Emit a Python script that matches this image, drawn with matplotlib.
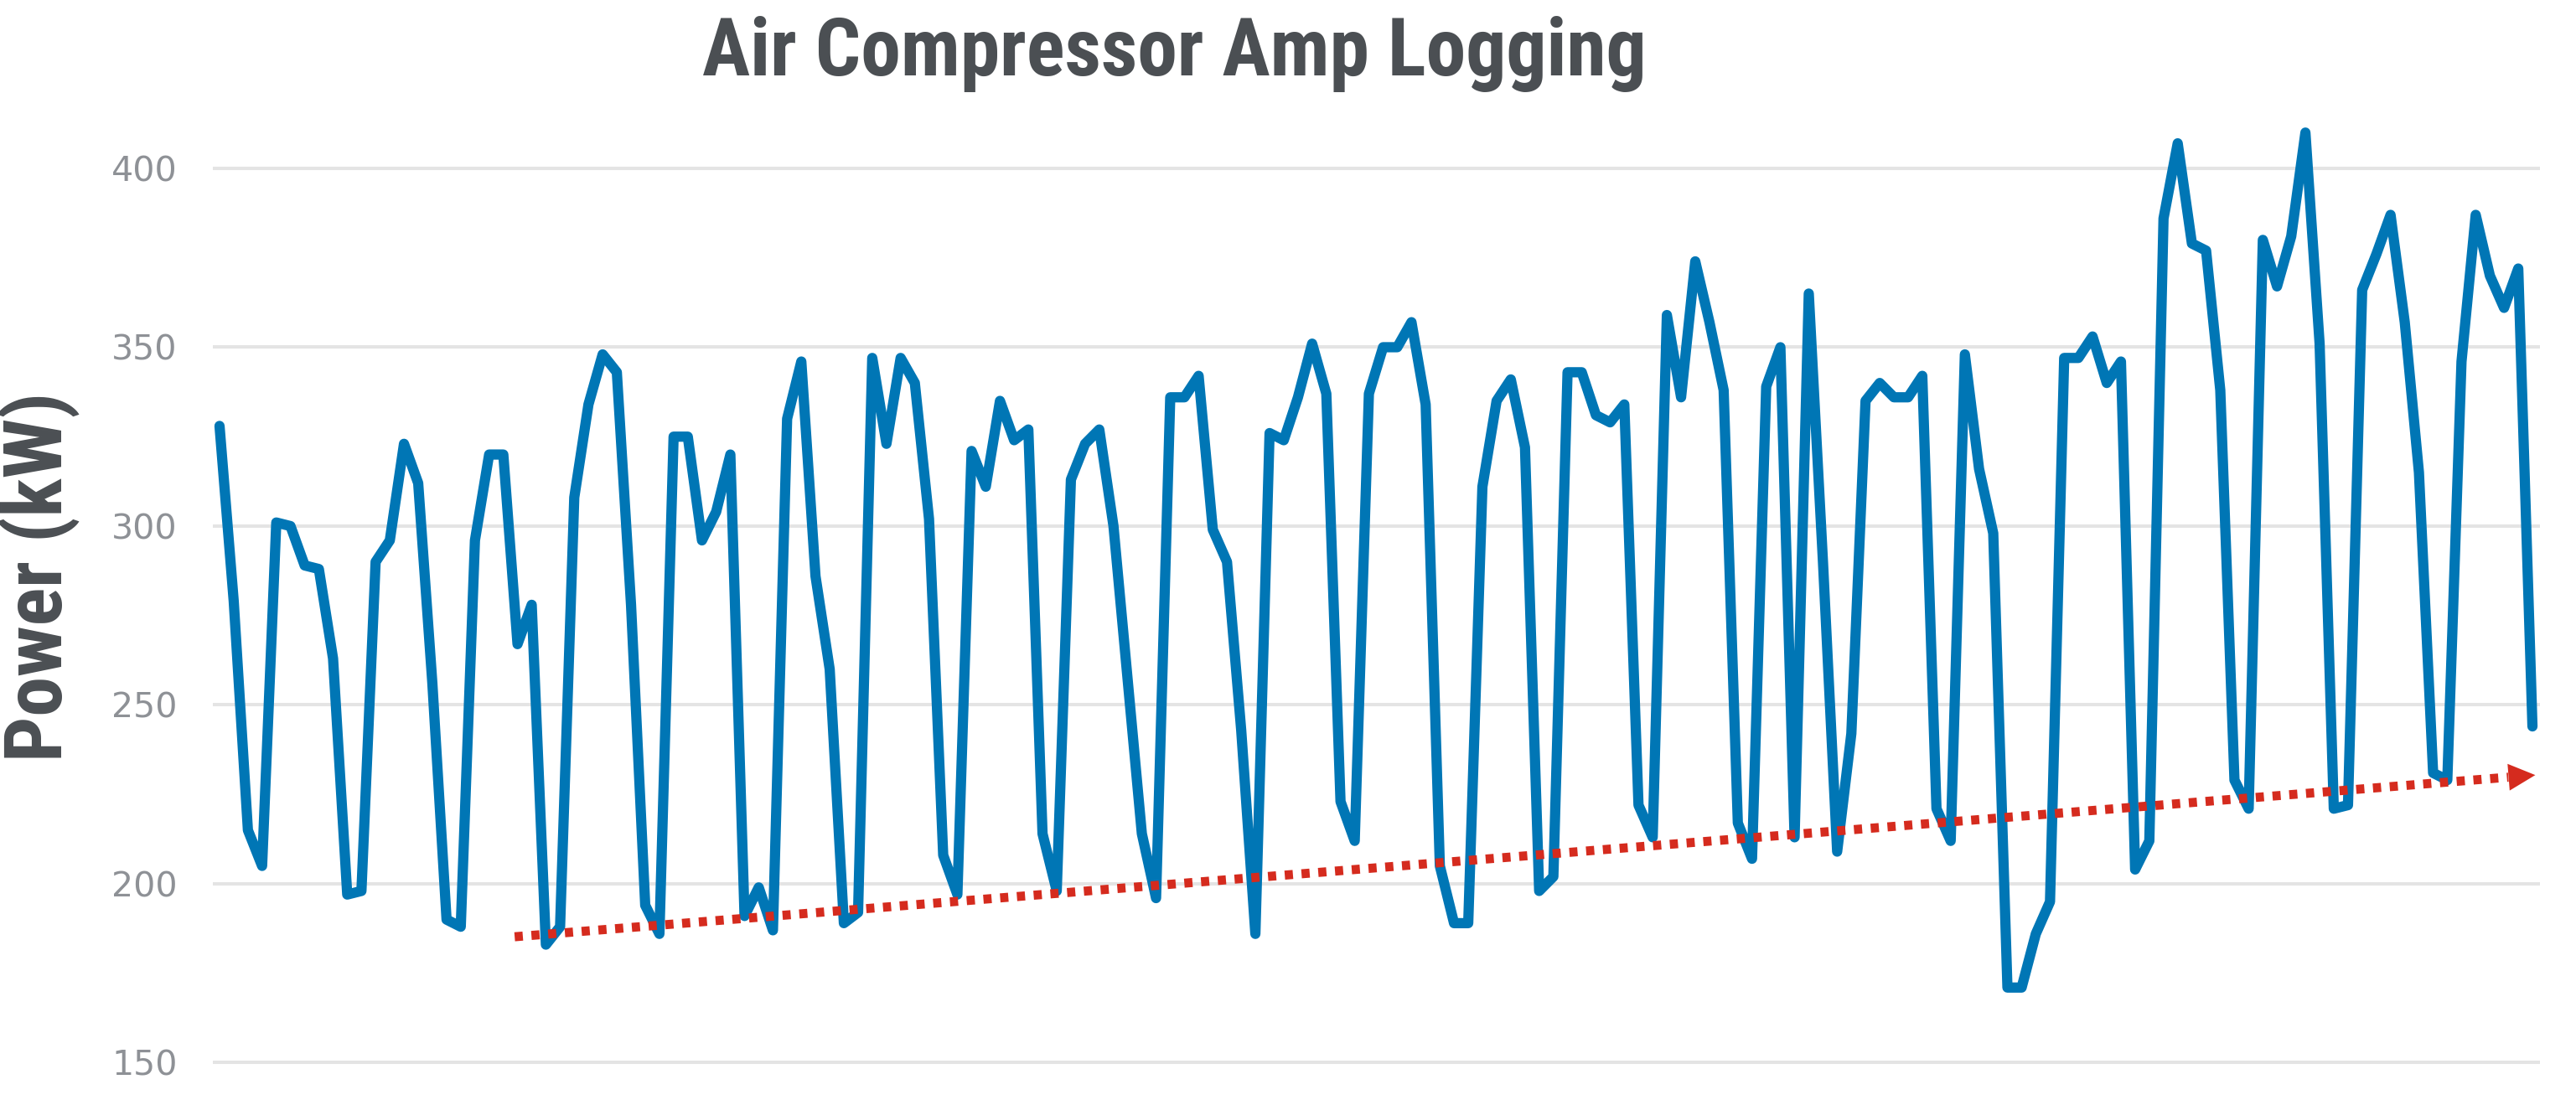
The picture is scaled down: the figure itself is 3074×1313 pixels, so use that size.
import matplotlib
matplotlib.use("Agg")
import matplotlib.pyplot as plt
from matplotlib import font_manager
from matplotlib.ticker import FixedLocator

# power readings (kW), one per logging interval
power_kw = [
    328, 279, 215, 205, 301, 300, 289, 288, 263, 197,
    198, 290, 296, 323, 312, 256, 190, 188, 296, 320,
    320, 267, 278, 183, 188, 308, 334, 348, 343, 278,
    194, 186, 325, 325, 296, 304, 320, 191, 199, 187,
    330, 346, 286, 260, 189, 192, 347, 323, 347, 340,
    302, 208, 197, 321, 311, 335, 324, 327, 214, 198,
    313, 323, 327, 300, 257, 214, 196, 336, 336, 342,
    299, 290, 243, 186, 326, 324, 336, 351, 337, 223,
    212, 337, 350, 350, 357, 334, 205, 189, 189, 311,
    335, 341, 322, 198, 202, 343, 343, 331, 329, 334,
    222, 213, 359, 336, 374, 357, 338, 217, 207, 339,
    350, 213, 365, 290, 209, 242, 335, 340, 336, 336,
    342, 221, 212, 348, 316, 298, 171, 171, 186, 195,
    347, 347, 353, 340, 346, 204, 212, 386, 407, 379,
    377, 338, 229, 221, 380, 367, 381, 410, 351, 221,
    222, 366, 376, 387, 357, 315, 231, 229, 346, 387,
    370, 361, 372, 244,
]
y_ticks = [150, 200, 250, 300, 350, 400]

# rising baseline arrow (start/end in sample index and kW)
trend_x = [20.8, 163.2]
trend_y = [185.2, 230.4]

BLUE = "#0076B5"
RED = "#D52B1E"
GRID = "#E4E4E4"
TICK = "#8E9196"
DARK = "#4B4F53"

# narrow bold face for the headings if one is installed
installed = {f.name for f in font_manager.fontManager.ttflist}
narrow = [n for n in ("Roboto Condensed", "Liberation Sans Narrow",
                      "DejaVu Sans Condensed", "Open Sans Condensed")
          if n in installed]
head_family = narrow[:1] + ["DejaVu Sans"]

W, H, DPI = 3074, 1313, 200
fig = plt.figure(figsize=(W / DPI, H / DPI), dpi=DPI)

# axes placed in pixel terms of the reference
left, right = 253.5, 3030.5
top, bottom = 136.9, 1289.8
ax = fig.add_axes([left / W, 1 - bottom / H, (right - left) / W, (bottom - top) / H])
ax.set_xlim(-0.5, len(power_kw) - 0.5)
ax.set_ylim(145, 415)

ax.plot(range(len(power_kw)), power_kw, color=BLUE, lw=4.4,
        solid_joinstyle="round", solid_capstyle="round", zorder=3, clip_on=False)

# dotted trend with a solid head
slope = (trend_y[1] - trend_y[0]) / (trend_x[1] - trend_x[0])
head = 1.9
ax.plot([trend_x[0], trend_x[1] - head], [trend_y[0], trend_y[1] - head * slope],
        color=RED, lw=3.9, dashes=(0.9, 0.95), dash_capstyle="butt", zorder=4)
ax.annotate("", xy=(trend_x[1], trend_y[1]),
            xytext=(trend_x[1] - head, trend_y[1] - head * slope),
            arrowprops=dict(arrowstyle="-|>,head_length=1.0,head_width=0.5",
                            mutation_scale=11.5, color=RED, lw=0,
                            shrinkA=0, shrinkB=0),
            zorder=5)

ax.yaxis.set_major_locator(FixedLocator(y_ticks))
ax.grid(axis="y", color=GRID, lw=1.45)
ax.set_axisbelow(True)
ax.set_xticks([])
for s in ax.spines.values():
    s.set_visible(False)
ax.tick_params(axis="y", length=0, pad=15, labelsize=14.8, labelcolor=TICK)

title = fig.text(1401 / W, 1 - 90 / H, "Air Compressor Amp Logging",
                 ha="center", va="baseline", fontsize=30, fontweight="bold",
                 family=head_family, color=DARK)
ylab = fig.text(74 / W, 1 - 688 / H, "Power (kW)", rotation=90,
                rotation_mode="anchor", ha="center", va="baseline",
                fontsize=30, fontweight="bold", family=head_family, color=DARK)

# title sized to the reference's text length; axis label uses the same size
r = fig.canvas.get_renderer()
tw = title.get_window_extent(r).width
size = 30 * 1129 / tw
title.set_fontsize(size)
ylab.set_fontsize(size)

fig.savefig("out.png", dpi=DPI)
